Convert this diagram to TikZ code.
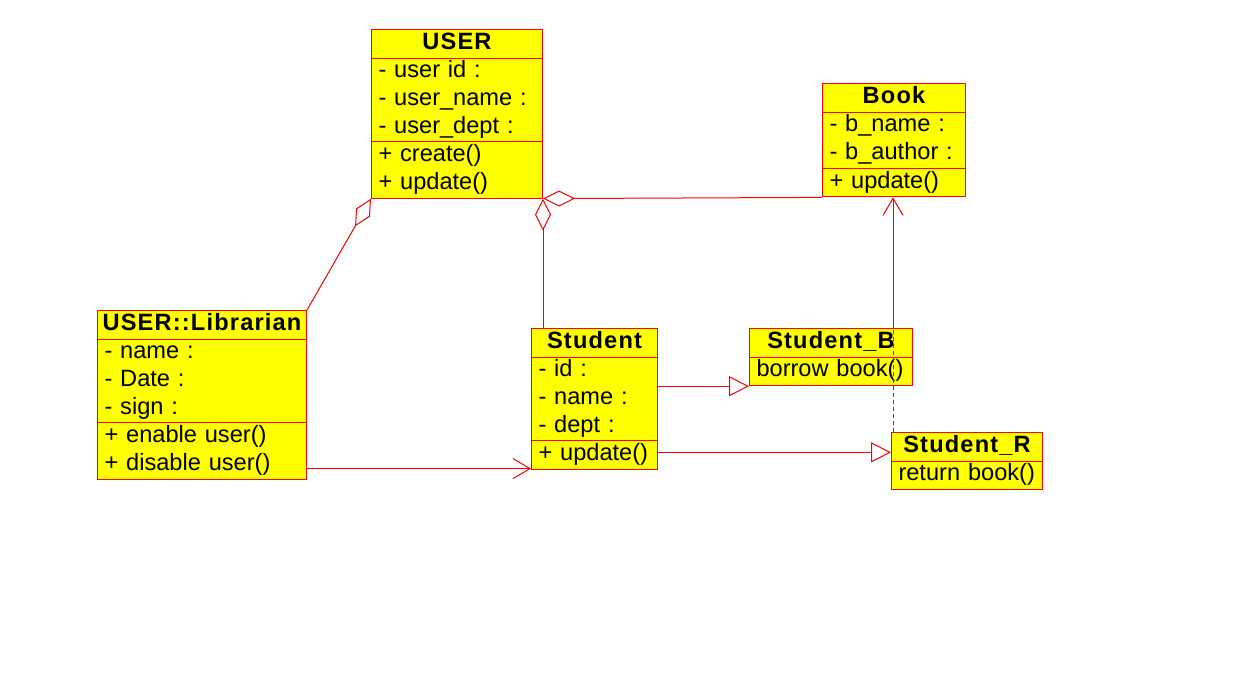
\documentclass[tikz,border=0pt]{standalone}
\usepackage{fontspec}
\setmainfont{Liberation Sans}
\usepackage{tikz}
\usetikzlibrary{shapes.multipart, arrows.meta}

\definecolor{clsfill}{RGB}{255,255,0}
\definecolor{clsline}{RGB}{255,0,0}

\newcommand{\clsname}[1]{\noindent\hbox to \hsize{\hss\bfseries\addfontfeature{LetterSpace=5}\strut #1\hss}}

\tikzset{
  umlclass/.style={draw=clsline, fill=clsfill, line width=0.5pt, rectangle split, rectangle split parts=3,
    text width=#1, align=left, inner xsep=3.5pt, inner ysep=0pt, anchor=north west,
    font=\fontsize{11.8}{13.8}\selectfont},
  umlsmall/.style={umlclass=#1, rectangle split parts=2},
  conn/.style={draw=clsline, line width=0.5pt},
  agg/.style={conn, {Diamond[open,length=16pt,width=8pt]}-},
  inherit/.style={conn, -{Triangle[open,length=10pt,width=10pt]}},
  assoc/.style={conn, -{Straight Barb[length=8.5pt,width=10pt]}},
}

\begin{document}
\begin{tikzpicture}[x=0.5pt, y=-0.5pt]
        \useasboundingbox (0,0) rectangle (1234,695);

        % Classes
        \node (user) [umlclass=78.5pt] at (371,29)
            {\clsname{USER}
             \nodepart{two}\strut- user id :\\\strut- user\_name :\\\strut- user\_dept :
             \nodepart{three}\strut+ create()\\\strut+ update()};
        \node (book) [umlclass=64.5pt] at (822,83)
            {\clsname{Book}
             \nodepart{two}\strut- b\_name :\\\strut- b\_author :
             \nodepart{three}\strut+ update()};
        \node (librarian) [umlclass=97.5pt] at (97,310)
            {\clsname{USER::Librarian}
             \nodepart{two}\strut- name :\\\strut- Date :\\\strut- sign :
             \nodepart{three}\strut+ enable user()\\\strut+ disable user()};
        \node (student) [umlclass=56pt] at (531,328)
            {\clsname{Student}
             \nodepart{two}\strut- id :\\\strut- name :\\\strut- dept :
             \nodepart{three}\strut+ update()};
        \node (student_b) [umlsmall=74.5pt] at (749,328)
            {\clsname{Student\_B}
             \nodepart{two}\strut borrow book()};
        \node (student_r) [umlsmall=68.5pt] at (891,432)
            {\clsname{Student\_R}
             \nodepart{two}\strut return book()};

        \coordinate (r_top) at ([xshift=1pt]student_r.north west);
        \coordinate (b_cut) at (r_top |- student_b.north);

        % Connectors
        \draw[agg] (user.south west) -- (librarian.north east);
        \draw[agg] (user.south east) -- (user.south east |- student.north);
        \draw[agg] (user.south east) -- (book.south west);
        \draw[conn, dash pattern=on 2pt off 1.5pt] (r_top) -- (b_cut);
        \draw[assoc] (b_cut) -- (b_cut |- book.south);
        \draw[assoc] ([yshift=5.5pt]librarian.south east) -- ([yshift=5.5pt]librarian.south east -| student.west);
        \draw[inherit] (student.east |- student_b.south) -- (student_b.south west);
        \draw[inherit] (student_r.text -| student.east) -- (student_r.text -| student_r.west);
    \end{tikzpicture}
\end{document}
